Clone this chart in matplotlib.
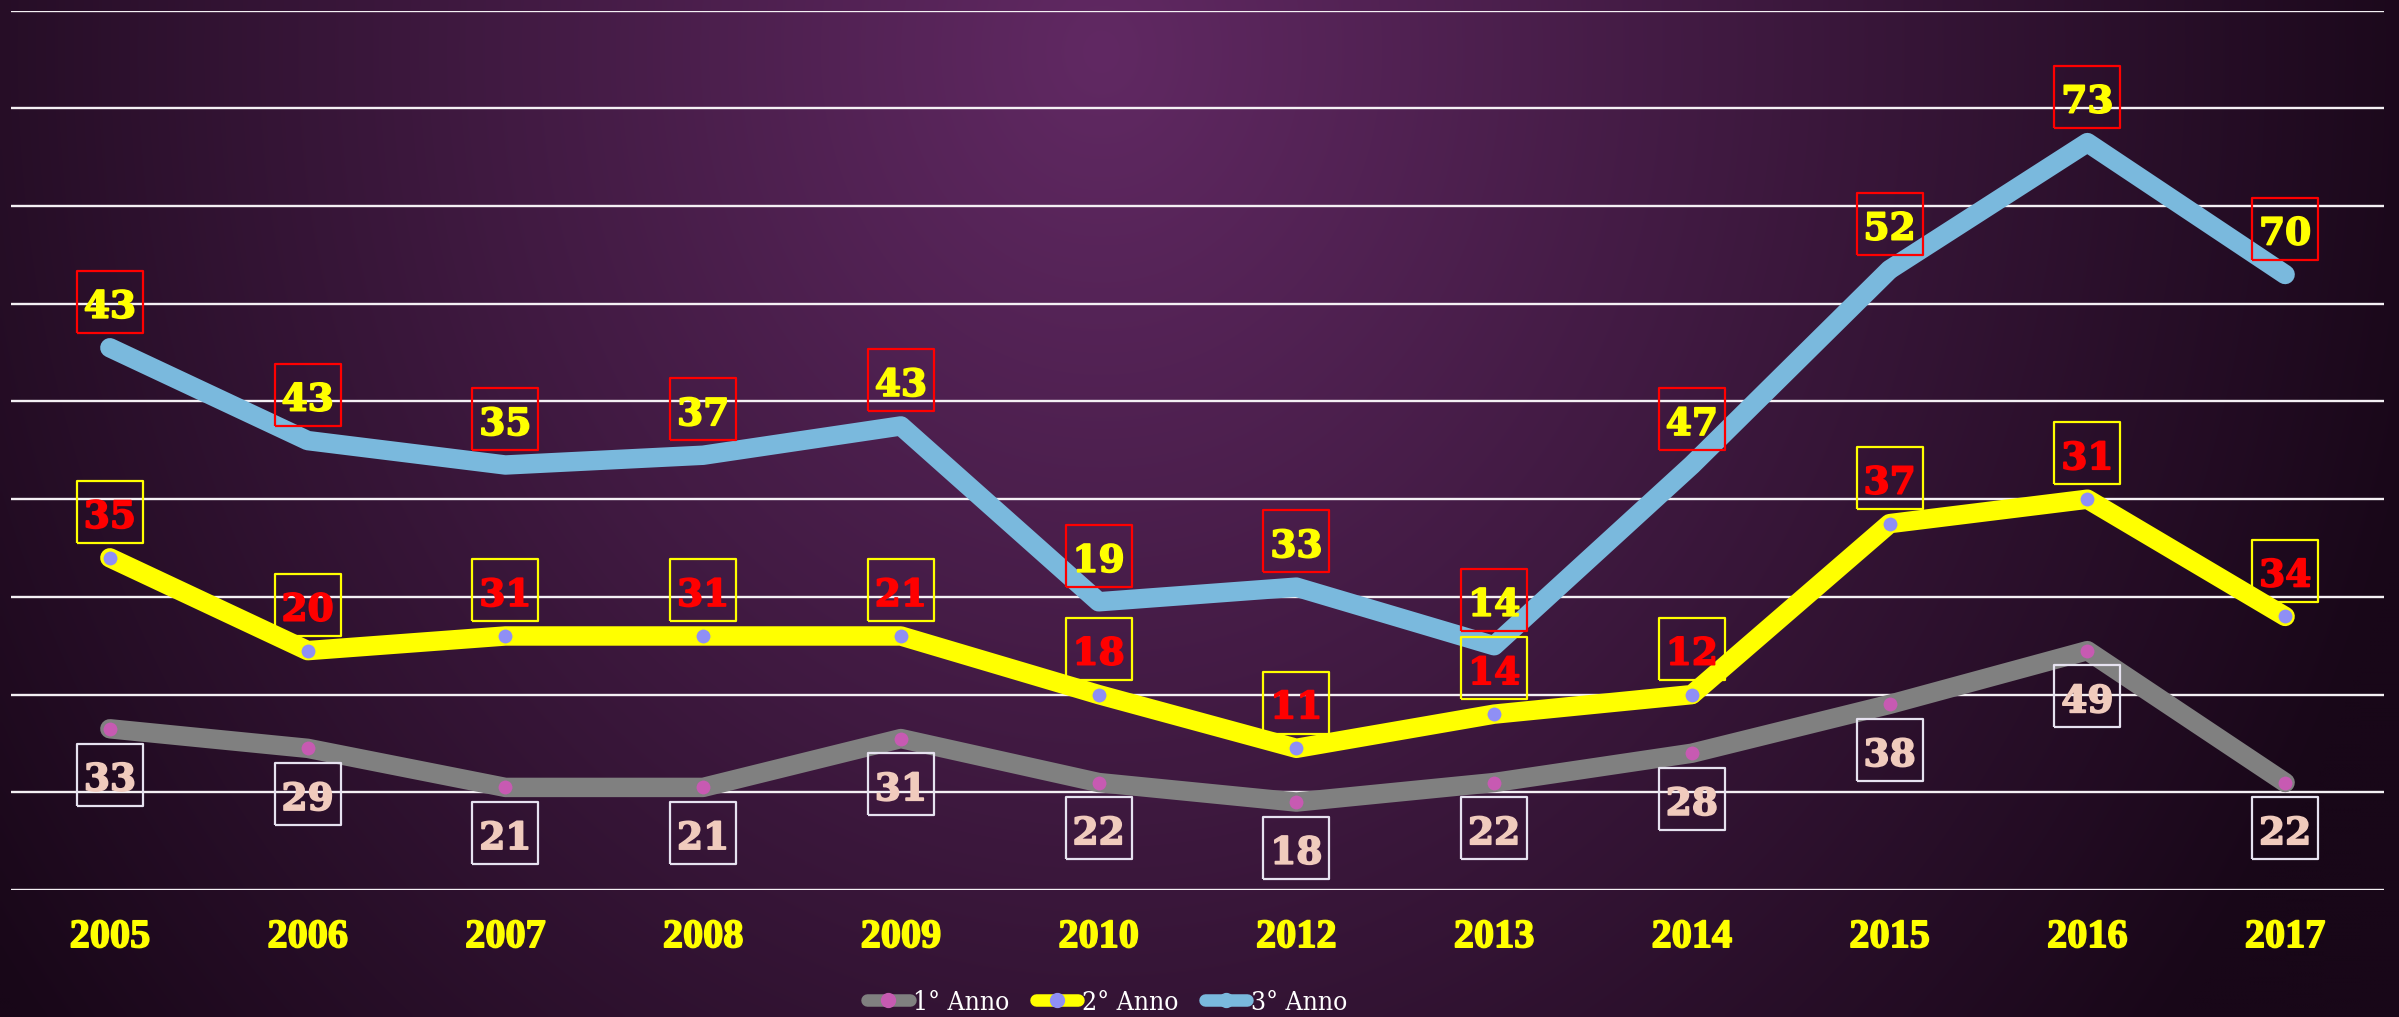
import numpy as np
import matplotlib
matplotlib.use("Agg")
import matplotlib.pyplot as plt
import matplotlib.patheffects as pe
from matplotlib.lines import Line2D
from matplotlib.transforms import ScaledTranslation

# data (stacked line chart, labels show own values)
years = ['2005', '2006', '2007', '2008', '2009', '2010',
         '2012', '2013', '2014', '2015', '2016', '2017']
anno1 = [33, 29, 21, 21, 31, 22, 18, 22, 28, 38, 49, 22]
anno2 = [35, 20, 31, 31, 21, 18, 11, 14, 12, 37, 31, 34]
anno3 = [43, 43, 35, 37, 43, 19, 33, 14, 47, 52, 73, 70]
series_names = ['1° Anno', '2° Anno', '3° Anno']

W, H = 2399, 1017
fig = plt.figure(figsize=(W / 100, H / 100), dpi=100)

# background: elliptical purple gradient
bg = fig.add_axes([0, 0, 1, 1], zorder=0)
yy, xx = np.mgrid[0:H:4, 0:W:4]
r = np.sqrt(((xx - 1100) / 1300.0) ** 2 + ((yy - 50) / 1500.0) ** 2)
t = np.clip(r / 1.05, 0, 1)[..., None]
c0 = np.array([97, 41, 99]) / 255.0
c1 = np.array([24, 7, 24]) / 255.0
img = c0 * (1 - t) + c1 * t
bg.imshow(img, extent=[0, 1, 0, 1], aspect='auto', interpolation='bilinear')
bg.axis('off')

left, right = 11 / W, 2384 / W
top, bottom = 1 - 10.7 / H, 1 - 890 / H
ax = fig.add_axes([left, bottom, right - left, top - bottom], zorder=1)
ax.patch.set_alpha(0)
for s in ax.spines.values():
    s.set_visible(False)

x = np.arange(len(years))
c1v = np.array(anno1)
c2v = c1v + np.array(anno2)
c3v = c2v + np.array(anno3)

ax.set_xlim(-0.5, len(years) - 0.5)
ax.set_ylim(0, 180)
ax.set_yticks(np.arange(0, 181, 20))
ax.yaxis.grid(True, color='#f4f0f4', lw=1.7, zorder=1)
ax.set_axisbelow(True)
ax.tick_params(axis='y', length=0, labelleft=False)
ax.set_xticks(x)
ax.set_xticklabels(years, color='#ffff00', fontsize=29, fontweight='bold',
                   family=['Liberation Serif', 'DejaVu Serif'])
for tl in ax.get_xticklabels():
    tl.set_path_effects([pe.withStroke(linewidth=1.2, foreground='#ffff00')])
ax.tick_params(axis='x', length=0, pad=21)

line_cols = ['#808080', '#ffff00', '#7ab9dd']
mark_cols = ['#c75ab2', '#8f8ff5', '#7ab9dd']
lab_txt = ['#f0cbbd', '#ff0000', '#ffff00']
lab_box = ['#e6e2f0', '#ffff00', '#ff0000']
tops = [c1v, c2v, c3v]
vals = [anno1, anno2, anno3]
offs = [-33, 33, 33]

for k in range(3):
    ax.plot(x, tops[k], color=line_cols[k], lw=14, solid_capstyle='round',
            solid_joinstyle='round', marker='o', ms=11, mfc=mark_cols[k],
            mec=line_cols[k], mew=1, zorder=3 + k, clip_on=False)

# label boxes: 67x62 px rectangles drawn as markers, shifted off the points
box_w, box_h = 67, 62
rect = [(-box_w / 2, -box_h / 2), (box_w / 2, -box_h / 2),
        (box_w / 2, box_h / 2), (-box_w / 2, box_h / 2), (-box_w / 2, -box_h / 2)]
for k in range(3):
    shift = ax.transData + ScaledTranslation(0, offs[k] / 72, fig.dpi_scale_trans)
    ax.plot(x, tops[k], ls='none', marker=rect, ms=box_w * 0.72, mfc='none',
            mec=lab_box[k], mew=1.6, transform=shift, zorder=9, clip_on=False)
    for i in range(len(years)):
        ax.annotate(str(vals[k][i]), (x[i], tops[k][i]), xytext=(0, offs[k] - 1),
                    textcoords='offset points', ha='center', va='center_baseline',
                    fontsize=27, fontweight='bold', color=lab_txt[k],
                    family='DejaVu Serif', zorder=10, annotation_clip=False,
                    path_effects=[pe.withStroke(linewidth=1.2, foreground=lab_txt[k])])

handles = [Line2D([], [], color=line_cols[k], lw=9, solid_capstyle='round',
                  marker='o', ms=10, mfc=mark_cols[k], mec=mark_cols[k])
           for k in range(3)]
leg = fig.legend(handles, series_names, loc='center', ncol=3,
                 bbox_to_anchor=(0.4616, 15 / H), frameon=False,
                 handlelength=1.6, handletextpad=0.15, columnspacing=1.0,
                 prop={'family': 'DejaVu Serif', 'size': 19, 'stretch': 'condensed'})
for txt in leg.get_texts():
    txt.set_color('white')

fig.savefig('out.png', dpi=100)
